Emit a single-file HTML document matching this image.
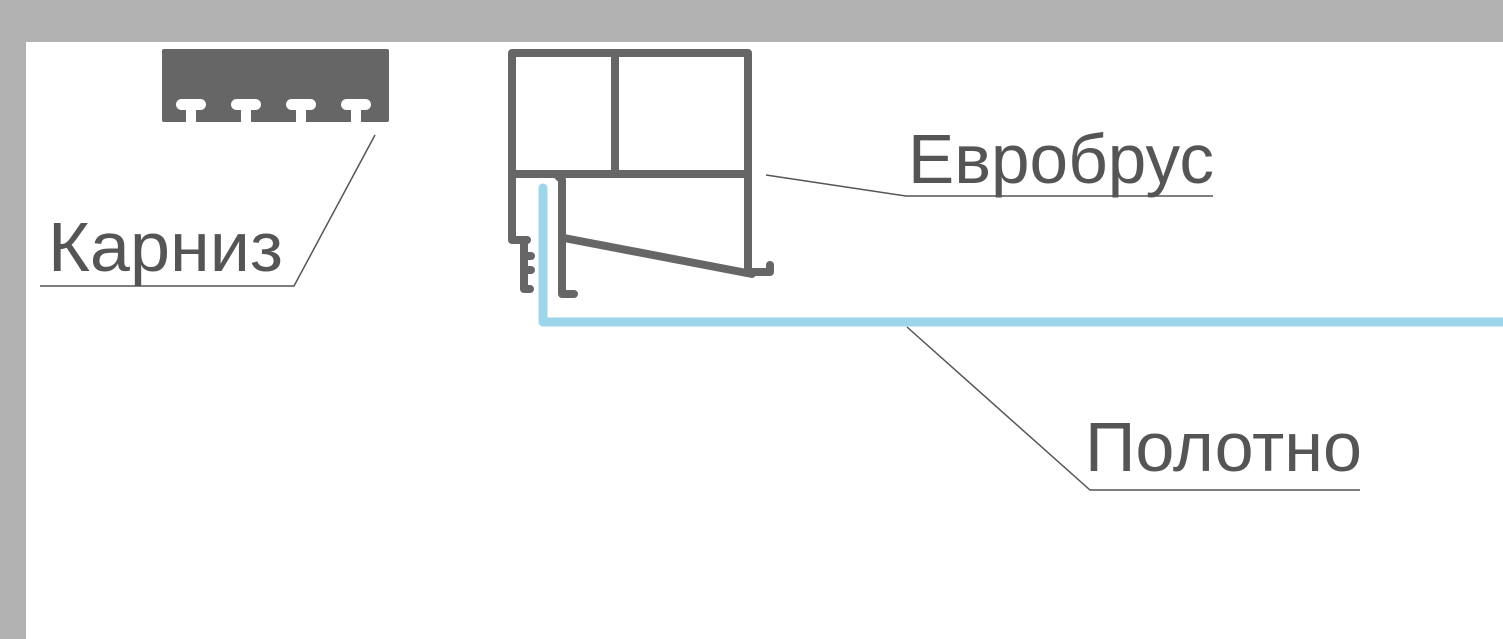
<!DOCTYPE html>
<html><head><meta charset="utf-8"><style>html,body{margin:0;padding:0;background:#fff}svg{display:block}</style></head>
<body>
<svg width="1503" height="639" viewBox="0 0 1503 639" xmlns="http://www.w3.org/2000/svg">
<rect x="0" y="0" width="1503" height="42" fill="#b2b2b2"/>
<rect x="0" y="0" width="26" height="639" fill="#b2b2b2"/>
<rect x="162" y="49" width="227" height="73" rx="2" fill="#666"/>
<g fill="#fff">
<g transform="translate(176,0)"><rect x="0" y="99" width="30" height="11" rx="5.5"/><rect x="10" y="104" width="10" height="18"/></g>
<g transform="translate(231,0)"><rect x="0" y="99" width="30" height="11" rx="5.5"/><rect x="10" y="104" width="10" height="18"/></g>
<g transform="translate(286,0)"><rect x="0" y="99" width="30" height="11" rx="5.5"/><rect x="10" y="104" width="10" height="18"/></g>
<g transform="translate(341,0)"><rect x="0" y="99" width="30" height="11" rx="5.5"/><rect x="10" y="104" width="10" height="18"/></g>
</g>
<g fill="none" stroke="#666" stroke-width="8" stroke-linecap="round" stroke-linejoin="round">
<rect x="512" y="53" width="236" height="121"/>
<line x1="615" y1="53" x2="615" y2="174"/>
<polyline points="512,174 512,240 527,240"/>
<polyline points="524,240 524,289 530,289"/>
<line x1="524" y1="256" x2="531" y2="256"/>
<line x1="524" y1="270" x2="531" y2="270"/>
<polyline points="512,174 556,174 562,180 562,294 574,294"/>
<line x1="564" y1="238" x2="752" y2="274"/>
<polyline points="748,174 748,272 770,272 770,265"/>
</g>
<polyline points="543,188 543,322 1503,322" fill="none" stroke="#9dd5ea" stroke-width="9" stroke-linecap="round" stroke-linejoin="round"/>
<g fill="none" stroke="#555" stroke-width="1.5">
<polyline points="40,286 294,286 375,135"/>
<polyline points="766,175 906,196 1213,196"/>
<polyline points="907,327 1090,490 1360,490"/>
</g>
<g font-family="Liberation Sans, sans-serif" font-size="70" fill="#555">
<text x="48" y="271" textLength="235" lengthAdjust="spacingAndGlyphs">Карниз</text>
<text x="908" y="183" textLength="306" lengthAdjust="spacingAndGlyphs">Евробрус</text>
<text x="1085" y="471" textLength="277" lengthAdjust="spacingAndGlyphs">Полотно</text>
</g>
</svg>
</body></html>
